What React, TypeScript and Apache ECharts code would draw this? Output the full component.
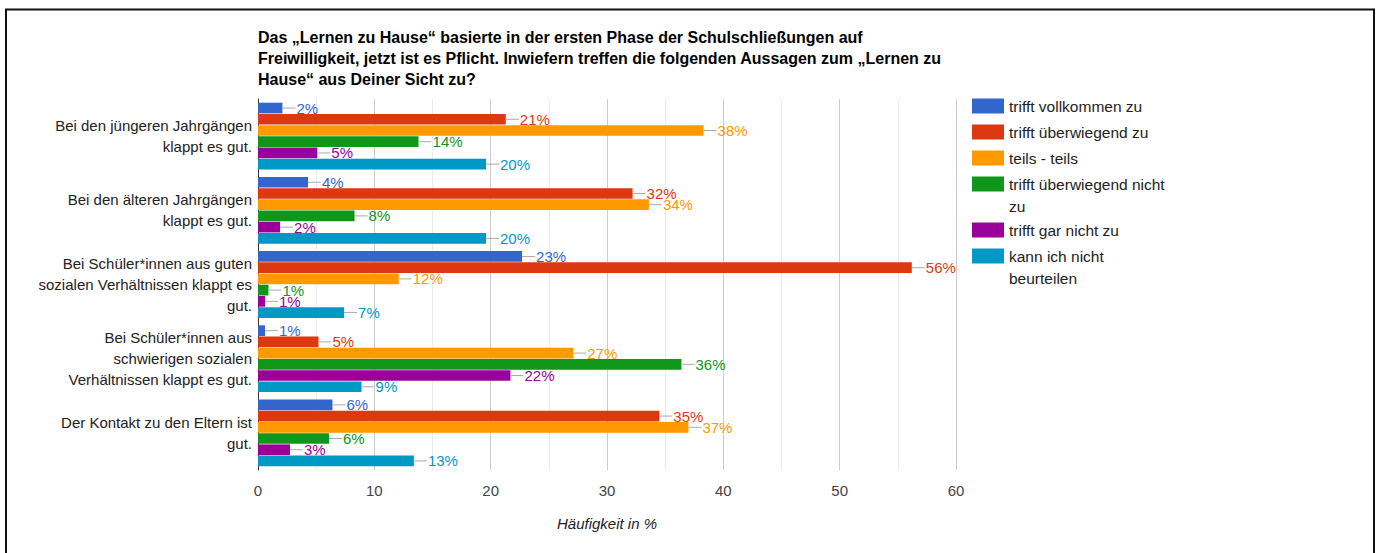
import React, { useEffect, useRef } from "react";
import * as echarts from "echarts";

const FONT = 'Arial, "Liberation Sans", sans-serif';

const categories = [
  "Bei den jüngeren Jahrgängen\nklappt es gut.",
  "Bei den älteren Jahrgängen\nklappt es gut.",
  "Bei Schüler*innen aus guten\nsozialen Verhältnissen klappt es\ngut.",
  "Bei Schüler*innen aus\nschwierigen sozialen\nVerhältnissen klappt es gut.",
  "Der Kontakt zu den Eltern ist\ngut.",
];

const seriesNames = [
  "trifft vollkommen zu",
  "trifft überwiegend zu",
  "teils - teils",
  "trifft überwiegend nicht zu",
  "trifft gar nicht zu",
  "kann ich nicht beurteilen",
];

const legendLabels = [
  "trifft vollkommen zu",
  "trifft überwiegend zu",
  "teils - teils",
  "trifft überwiegend nicht\nzu",
  "trifft gar nicht zu",
  "kann ich nicht\nbeurteilen",
];

const colors = ["#3366cc", "#dc3912", "#ff9900", "#109618", "#990099", "#0099c6"];

// values per series (in category order)
const vollkommen = [2.1, 4.3, 22.7, 0.6, 6.4];
const ueberwiegend = [21.3, 32.2, 56.2, 5.2, 34.5];
const teils = [38.3, 33.6, 12.1, 27.1, 37.0];
const ueberwiegendNicht = [13.8, 8.3, 0.9, 36.4, 6.1];
const garNicht = [5.1, 1.9, 0.6, 21.7, 2.75];
const nichtBeurteilen = [19.6, 19.6, 7.4, 8.9, 13.4];

const seriesValues = [vollkommen, ueberwiegend, teils, ueberwiegendNicht, garNicht, nichtBeurteilen];

const xTicks = { min: 0, max: 60, interval: 10 };

const titleText =
  "Das „Lernen zu Hause“ basierte in der ersten Phase der Schulschließungen auf\n" +
  "Freiwilligkeit, jetzt ist es Pflicht. Inwiefern treffen die folgenden Aussagen zum „Lernen zu\n" +
  "Hause“ aus Deiner Sicht zu?";

const LEGEND_LH = 22;
// vertical centres of the legend icons
const legendCenters = [106, 132, 158, 184, 230, 256];

export default function App() {
  const ref = useRef<HTMLDivElement>(null);

  useEffect(() => {
    if (!ref.current) return;
    const chart = echarts.init(ref.current, undefined, { renderer: "svg" });

    const series = seriesNames.map((name, i) => ({
      name,
      type: "bar",
      data: seriesValues[i],
      barGap: "5%",
      barCategoryGap: "10%",
      itemStyle: { color: colors[i] },
      label: {
        show: true,
        position: "right",
        distance: 0,
        formatter: (p: any) => `{l| }{v|${Math.round(p.value)}%}`,
        rich: {
          l: { width: 13, height: 1, backgroundColor: "#aaaaaa" },
          v: { color: colors[i], fontSize: 15, fontFamily: FONT, padding: [0, 0, 0, 1] },
        },
      },
    }));

    const legends = seriesNames.map((n, i) => {
      const wrapped = legendLabels[i].includes("\n");
      return {
        orient: "vertical",
        left: 972,
        top: legendCenters[i] - (wrapped ? LEGEND_LH * 1.5 : LEGEND_LH / 2),
        padding: 0,
        itemWidth: 32,
        itemHeight: 15,
        icon: "rect",
        data: [{ name: n, textStyle: wrapped ? { padding: [LEGEND_LH, 0, 0, 0] } : {} }],
        formatter: (name: string) => {
          const idx = seriesNames.indexOf(name);
          return legendLabels[idx]
            .split("\n")
            .map((s) => `{a|${s}}`)
            .join("\n");
        },
        textStyle: {
          fontFamily: FONT,
          fontSize: 15.5,
          color: "#222222",
          lineHeight: LEGEND_LH,
          rich: { a: { fontFamily: FONT, fontSize: 15.5, color: "#222222", lineHeight: LEGEND_LH } },
        },
      };
    });

    const option: any = {
      animation: false,
      backgroundColor: "#ffffff",
      color: colors,
      textStyle: { fontFamily: FONT },
      title: {
        text: titleText,
        left: 258,
        top: 27,
        padding: 0,
        textStyle: {
          fontFamily: FONT,
          fontSize: 16,
          fontWeight: "bold",
          color: "#000000",
          lineHeight: 21,
        },
      },
      legend: legends,
      grid: { left: 258, right: 423, top: 99, bottom: 83, containLabel: false },
      xAxis: {
        type: "value",
        min: xTicks.min,
        max: xTicks.max,
        interval: xTicks.interval,
        axisLine: { show: false },
        axisTick: { show: false },
        axisLabel: { color: "#444444", fontSize: 15, fontFamily: FONT, margin: 13 },
        splitLine: { show: true, lineStyle: { color: "#cccccc", width: 1 } },
        minorTick: { show: false, splitNumber: 2 },
        minorSplitLine: { show: true, lineStyle: { color: "#ebebeb", width: 1 } },
        name: "Häufigkeit in %",
        nameLocation: "middle",
        nameGap: 46,
        nameTextStyle: { fontStyle: "italic", fontSize: 15, color: "#222222", fontFamily: FONT },
      },
      yAxis: {
        type: "category",
        inverse: true,
        data: categories,
        axisLine: { show: true, onZero: false, lineStyle: { color: "#333333", width: 1 } },
        axisTick: { show: false },
        axisLabel: { color: "#222222", fontSize: 15, fontFamily: FONT, lineHeight: 21, margin: 6, align: "right" },
        splitLine: { show: false },
      },
      graphic: [
        {
          type: "rect",
          silent: true,
          shape: { x: 6, y: 9.5, width: 1368, height: 600 },
          style: { fill: "none", stroke: "#111111", lineWidth: 2 },
          z: 100,
        },
      ],
      series,
    };

    chart.setOption(option);
    return () => chart.dispose();
  }, []);

  return (
    <div
      ref={ref}
      style={{ position: "fixed", left: 0, top: 0, width: 1379, height: 553, background: "#fff" }}
    />
  );
}
